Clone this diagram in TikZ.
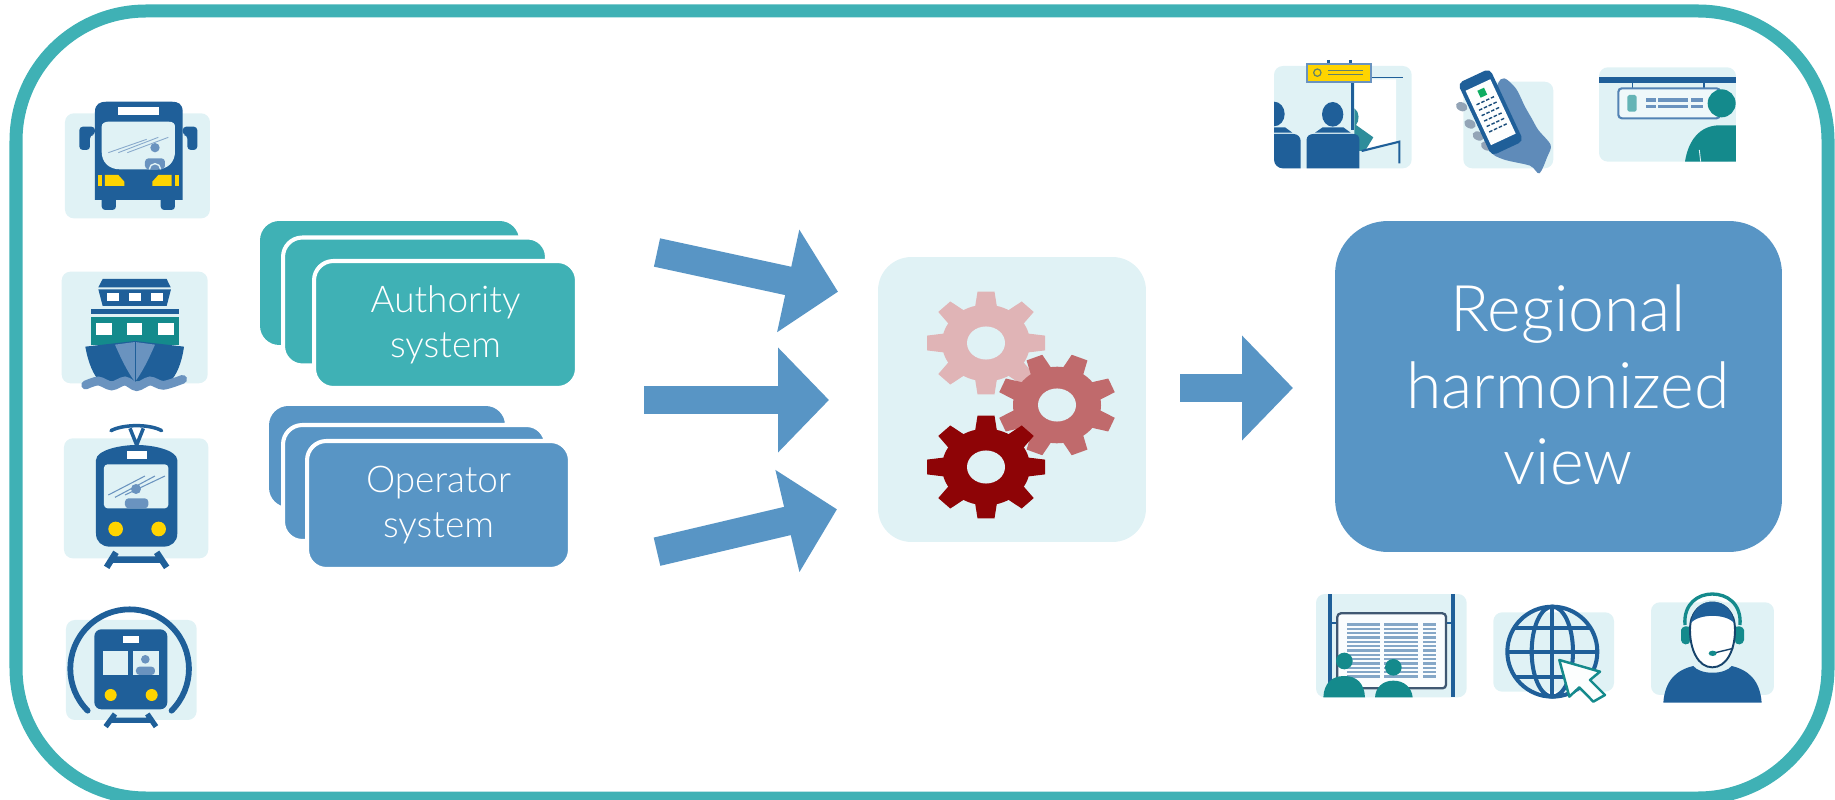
\documentclass[tikz,border=0pt]{standalone}
\usepackage{fontspec}
\setmainfont{Lato}[UprightFont=* Light]
\usetikzlibrary{arrows.meta}
\definecolor{framec}{HTML}{3FB1B5}
\definecolor{steelc}{HTML}{5895C5}
\definecolor{panelc}{HTML}{E0F2F5}
\definecolor{navyc}{HTML}{1F5F99}
\definecolor{tealc}{HTML}{148A8C}
\definecolor{midc}{HTML}{6A93BF}
\definecolor{yellowc}{HTML}{FFD400}
\definecolor{gearlight}{HTML}{E0B4B6}
\definecolor{gearmid}{HTML}{C06A6C}
\definecolor{geardark}{HTML}{8E0406}
\tikzset{
  icon/.style={x=0.00667cm,y=-0.00667cm},
  panel/.style={fill=panelc,rounded corners=5pt},
  syscard/.style={rectangle,rounded corners=11pt,inner sep=0pt},
  sysbox/.style={syscard,draw=white,line width=2.3pt,text=white,align=center,font=\fontsize{21}{25.5}\selectfont},
  flow/.style={steelc,line width=16.5pt,-{Triangle[length=29pt,width=58pt]}}
}
\newcommand{\gearat}[3]{
  \begin{scope}[shift={#1},yscale=0.87,rotate=#2]
    \fill[#3] (0,0) circle (44);
    \foreach \a in {0,45,...,315}
      \fill[#3,rotate=\a] (41,-11) -- (59,-8.5) -- (59,8.5) -- (41,11) -- cycle;
    \fill[panelc] (0,0) circle (19);
  \end{scope}
}
\begin{document}
\begin{tikzpicture}[x=0.02cm,y=-0.02cm]
\useasboundingbox (0,0) rectangle (1835,800);
\draw[framec,line width=7.4pt,rounded corners=74pt] (16,11) rectangle (1828,798);

\begin{scope}[shift={(40,80)},icon]
\fill[panel] (75,100) rectangle (510,415);
\fill[navyc,rounded corners=2pt] (165,140) -- (118,140) -- (118,210) -- (150,210) -- (150,165) -- (165,165) -- cycle;
\fill[navyc,rounded corners=2pt] (428,140) -- (472,140) -- (472,210) -- (442,210) -- (442,165) -- (428,165) -- cycle;
\fill[navyc,rounded corners=2pt] (185,340) rectangle (228,390);
\fill[navyc,rounded corners=2pt] (362,340) rectangle (405,390);
\fill[navyc] (165,360) -- (165,95) .. controls (165,72) and (180,65) .. (200,65) -- (395,65) .. controls (415,65) and (428,72) .. (428,95) -- (428,360) -- cycle;
\fill[white] (233,82) rectangle (358,104);
\fill[panelc] (185,140) .. controls (185,130) and (195,125) .. (205,125) -- (385,125) .. controls (398,125) and (405,130) .. (405,140) -- (405,215) .. controls (405,245) and (385,268) .. (350,268) -- (240,268) .. controls (205,268) and (185,245) .. (185,215) -- cycle;
\fill[midc] (345,203) circle (14);
\fill[midc,rounded corners=2pt] (315,268) -- (315,235) -- (375,235) -- (375,268) -- cycle;
\draw[panelc,line width=0.8pt] (328,268) arc[start angle=180,end angle=360,radius=17];
\draw[midc!80,line width=0.5pt] (205,218) -- (320,178) (235,218) -- (355,172) (262,218) -- (385,172);
\fill[yellowc] (195,285) -- (235,285) -- (253,305) -- (253,318) -- (195,318) -- cycle;
\fill[yellowc] (395,285) -- (355,285) -- (337,305) -- (337,318) -- (395,318) -- cycle;
\fill[yellowc] (173,285) rectangle (186,318);
\fill[yellowc] (405,285) rectangle (417,318);
\end{scope}

\begin{scope}[shift={(40,80)},icon]
\fill[panel] (65,575) rectangle (503,910);
\fill[navyc] (188,597) -- (380,597) -- (392,622) -- (175,622) -- cycle;
\fill[navyc] (175,628) -- (393,628) -- (380,678) -- (188,678) -- cycle;
\foreach \x in {200,267,333} \fill[white] (\x,640) rectangle +(36,22);
\fill[navyc] (152,688) rectangle (416,702);
\fill[tealc] (152,712) rectangle (416,795);
\foreach \x in {168,260,355} \fill[white] (\x,728) rectangle +(47,37);
\fill[navyc] (136,800) -- (285,783) -- (432,800) .. controls (425,850) and (410,885) .. (390,905) -- (180,905) .. controls (160,885) and (145,850) .. (136,800) -- cycle;
\fill[midc] (225,794) -- (285,786) -- (345,794) .. controls (325,840) and (305,880) .. (285,905) .. controls (265,880) and (245,840) .. (225,794) -- cycle;
\draw[navyc,line width=0.5pt] (285,786) -- (285,905);
\draw[midc,line width=5pt,line cap=round] plot[smooth] coordinates {(137,915)(175,903)(215,918)(255,903)(290,920)(330,903)(370,916)(428,898)};
\end{scope}

\begin{scope}[shift={(40,410)},icon]
\fill[panel] (72,85) rectangle (505,445);
\draw[navyc,line width=2pt] (270,55) -- (290,105) -- (310,55);
\draw[navyc,line width=2pt,line cap=round] (213,62) .. controls (250,42) and (330,42) .. (365,62);
\fill[navyc] (168,150) .. controls (170,120) and (240,105) .. (290,105) .. controls (340,105) and (410,120) .. (412,150) -- (412,370) .. controls (412,395) and (395,410) .. (370,410) -- (210,410) .. controls (185,410) and (168,395) .. (168,370) -- cycle;
\fill[white] (260,123) rectangle (320,148);
\fill[panelc,rounded corners=2pt] (192,163) rectangle (385,295);
\fill[midc] (288,237) circle (15);
\fill[midc,rounded corners=2pt] (255,295) -- (255,265) -- (325,265) -- (325,295) -- cycle;
\draw[midc,line width=0.6pt] (205,255) -- (315,198) (225,262) -- (345,198) (255,255) -- (375,198);
\foreach \x in {227,356} \fill[yellowc] (\x,357) circle (22);
\draw[navyc,line width=3.6pt] (228,427) -- (200,472) (350,427) -- (380,472) (215,449) -- (368,449);
\end{scope}

\begin{scope}[shift={(40,410)},icon]
\fill[panel] (78,630) rectangle (470,930);
\draw[navyc,line width=3.3pt,line cap=round] (143,902) arc[start angle=135,end angle=405,radius=178];
\fill[navyc,rounded corners=4pt] (163,658) rectangle (382,898);
\fill[white] (248,678) rectangle (298,698);
\fill[panelc] (190,722) rectangle (265,795);
\fill[panelc] (278,722) rectangle (357,795);
\fill[midc] (316,748) circle (13);
\fill[midc,rounded corners=2pt] (288,795) -- (288,770) -- (345,770) -- (345,795) -- cycle;
\foreach \x in {212,335} \fill[yellowc] (\x,855) circle (18);
\draw[navyc,line width=3pt] (225,912) -- (197,950) (322,912) -- (348,950) (212,931) -- (335,931);
\end{scope}

\node[syscard,fill=framec,minimum width=5.18cm,minimum height=2.48cm] (authback) at (389.5,283) {};
\node[sysbox,fill=framec,minimum width=5.28cm,minimum height=2.56cm] (authmid) at (415,301.5) {};
\node[sysbox,fill=framec,minimum width=5.26cm,minimum height=2.54cm] (authfront) at (445.5,324.5) {Authority\\system};
\node[syscard,fill=steelc,minimum width=4.72cm,minimum height=2.02cm] (operback) at (387,456.5) {};
\node[sysbox,fill=steelc,minimum width=5.26cm,minimum height=2.32cm] (opermid) at (414.5,483) {};
\node[sysbox,fill=steelc,minimum width=5.26cm,minimum height=2.56cm] (operfront) at (438.5,505) {Operator\\system};

\coordinate (a1) at (657,252.5);
\coordinate (a2) at (644,400);
\coordinate (a3) at (657,551.7);
\coordinate (b1) at (838,291.7);
\coordinate (b2) at (829,400);
\coordinate (b3) at (837,509.3);
\coordinate (c1) at (1180,388);
\coordinate (c2) at (1293,388);
\draw[flow] (a1) -- (b1);
\draw[flow] (a2) -- (b2);
\draw[flow] (a3) -- (b3);
\draw[flow] (c1) -- (c2);

\node[rectangle,rounded corners=19pt,fill=panelc,minimum width=5.36cm,minimum height=5.7cm] (gears) at (1012,399.5) {};
\gearat{(986,343)}{0}{gearlight}
\gearat{(1057,405)}{22.5}{gearmid}
\gearat{(986,467)}{0}{geardark}

\node[rectangle,rounded corners=30pt,fill=steelc,minimum width=8.94cm,minimum height=6.62cm] (regional) at (1558.5,386.5) {};
\node[text=white,align=center,inner sep=0pt,font=\fontsize{36.6}{43.4}\selectfont] (regtext) at (1568,385) {Regional\\harmonized\\view};

\begin{scope}[shift={(1260,50)},icon]
\fill[panel] (42,48) rectangle (455,355);
\fill[white] (285,88) -- (408,88) -- (408,277) -- (305,303) -- (285,303) -- cycle;
\fill[tealc!70!midc] (283,175) .. controls (300,185) and (298,215) .. (288,225) -- (340,262) -- (318,298) -- (305,303) -- (283,303) -- cycle;
\draw[navyc,line width=1.2pt] (305,303) -- (418,275) -- (418,340);
\draw[navyc,line width=1.9pt] (277,95) -- (277,240);
\draw[navyc,line width=0.9pt] (330,82) -- (430,82);
\draw[navyc,line width=1.9pt] (205,30) -- (205,44) (272,30) -- (272,44);
\fill[yellowc,draw=midc,line width=1pt] (140,42) rectangle (332,95);
\draw[navyc!70!yellowc,line width=0.9pt] (205,62) -- (310,62) (205,74) -- (310,74);
\draw[navyc!70!yellowc,line width=0.7pt] (172,68) circle (11);
\begin{scope}
\clip[rounded corners=5pt] (42,48) rectangle (455,355);
\fill[navyc] (42,192) ellipse (32 and 37);
\fill[navyc] (42,232) -- (75,232) -- (97,248) -- (42,248) -- cycle;
\fill[navyc,rounded corners=4pt] (20,380) -- (20,252) -- (122,252) -- (122,380) -- cycle;
\end{scope}
\fill[navyc] (218,193) ellipse (32 and 37);
\fill[navyc] (188,232) -- (250,232) -- (272,248) -- (165,248) -- cycle;
\fill[navyc] (140,355) -- (140,268) .. controls (140,258) and (150,252) .. (160,252) -- (280,252) .. controls (290,252) and (298,258) .. (298,268) -- (298,355) -- cycle;
\end{scope}

\begin{scope}[shift={(1260,50)},icon]
\fill[panel] (610,95) rectangle (880,355);
\fill[midc!85!navyc] plot[smooth cycle] coordinates {(722,88)(765,112)(795,170)(815,205)(835,240)(872,285)(862,320)(838,370)(810,347)(730,328)(690,300)(680,200)};
\foreach \x/\y in {605/170,630/222,655/258,680/288} \fill[midc!70!black!60!white,rotate around={-25:(\x,\y)}] (\x,\y) ellipse (18 and 13);
\begin{scope}[shift={(691,187)},rotate=25]
\fill[navyc,rounded corners=3pt] (-52,-120) rectangle (54,120);
\fill[white!95!panelc] (-40,-90) rectangle (42,90);
\fill[tealc!70!green] (-8,-75) rectangle (14,-52);
\foreach \y in {-38,-20,-2,16,34,52}
  \draw[navyc!80!black,line width=0.8pt,dash pattern=on 2pt off 1pt] (-28,\y) -- (30,\y);
\end{scope}
\end{scope}

\begin{scope}[shift={(1260,50)},icon]
\fill[panel] (1017,52) rectangle (1428,335);
\fill[navyc] (1017,82) rectangle (1428,100);
\draw[navyc,line width=0.8pt] (1117,100) -- (1117,115) (1332,100) -- (1332,115);
\draw[midc!70!navyc,fill=white!50!panelc,line width=1.2pt,rounded corners=2pt] (1075,115) rectangle (1380,205);
\fill[tealc!60!panelc,rounded corners=1pt] (1102,135) rectangle (1130,185);
\foreach \x/\w in {1157/30,1195/88,1293/37} {
  \fill[midc] (\x,145) rectangle +(\w,10);
  \fill[midc] (\x,165) rectangle +(\w,10);
}
\fill[tealc] (1385,160) circle (42);
\fill[tealc] (1275,335) .. controls (1285,270) and (1320,228) .. (1375,226) -- (1428,226) -- (1428,335) -- cycle;
\draw[panelc,line width=0.5pt] (1322,335) -- (1318,300);
\end{scope}

\begin{scope}[shift={(1300,580)},icon]
\fill[panel] (48,42) rectangle (500,352);
\fill[navyc] (84,42) rectangle (96,352);
\fill[navyc] (452,42) rectangle (464,352);
\draw[navyc,line width=1pt] (96,130) -- (112,130) (438,130) -- (452,130);
\draw[midc!60!black,fill=white!85!panelc,line width=1.3pt,rounded corners=2pt] (112,100) rectangle (438,325);
\foreach \x/\w in {140/100,252/103,368/40}
  \foreach \y in {130,143,...,290}
    \fill[navyc!55!white] (\x,\y) rectangle +(\w,7);
\fill[tealc] (133,243) circle (25);
\fill[tealc] (70,352) .. controls (72,310) and (95,288) .. (133,288) .. controls (170,288) and (193,310) .. (195,352) -- cycle;
\fill[tealc] (280,262) circle (25);
\fill[tealc] (225,352) .. controls (227,322) and (248,302) .. (280,302) .. controls (312,302) and (335,322) .. (338,352) -- cycle;
\end{scope}

\begin{scope}[shift={(1300,580)},icon]
\fill[panel] (580,97) rectangle (942,335);
\draw[navyc,line width=2.3pt] (757,215) circle (135);
\draw[navyc,line width=2.3pt] (757,215) ellipse (62 and 135);
\draw[navyc,line width=2.3pt] (757,80) -- (757,350) (622,215) -- (892,215) (642,145) -- (872,145) (645,290) -- (869,290);
\fill[white!90!panelc,draw=tealc,line width=1.4pt,line join=round] (778,240) -- (900,275) -- (870,300) -- (915,345) -- (880,365) -- (838,322) -- (808,350) -- cycle;
\end{scope}

\begin{scope}[shift={(1300,580)},icon]
\fill[panel] (1053,67) rectangle (1422,345);
\fill[navyc] (1090,368) .. controls (1095,300) and (1130,270) .. (1180,258) .. controls (1200,285) and (1275,285) .. (1295,258) .. controls (1345,270) and (1380,300) .. (1385,368) -- cycle;
\fill[tealc] (1143,150) .. controls (1143,140) and (1170,130) .. (1170,150) -- (1170,180) .. controls (1170,200) and (1143,195) .. (1143,180) -- cycle;
\fill[tealc] (1332,150) .. controls (1332,140) and (1305,130) .. (1305,150) -- (1305,180) .. controls (1305,200) and (1332,195) .. (1332,180) -- cycle;
\fill[white,draw=navyc!70!black,line width=1.1pt] (1237,262) .. controls (1195,262) and (1170,210) .. (1170,150) .. controls (1170,100) and (1195,65) .. (1237,65) .. controls (1280,65) and (1305,100) .. (1305,150) .. controls (1305,210) and (1280,262) .. (1237,262) -- cycle;
\fill[navyc] (1172,130) .. controls (1180,85) and (1205,65) .. (1237,65) .. controls (1270,65) and (1295,85) .. (1303,130) .. controls (1280,100) and (1195,100) .. (1172,130) -- cycle;
\draw[tealc,line width=1.9pt] (1155,135) .. controls (1150,70) and (1195,42) .. (1237,42) .. controls (1280,42) and (1325,70) .. (1320,135);
\draw[panelc,line width=1pt] (1170,110) .. controls (1185,75) and (1210,62) .. (1237,62) .. controls (1265,62) and (1290,75) .. (1305,110);
\draw[navyc!70!black,line width=0.8pt] (1230,222) -- (1300,205);
\fill[tealc] (1238,220) ellipse (12 and 8);
\end{scope}
\end{tikzpicture}
\end{document}
